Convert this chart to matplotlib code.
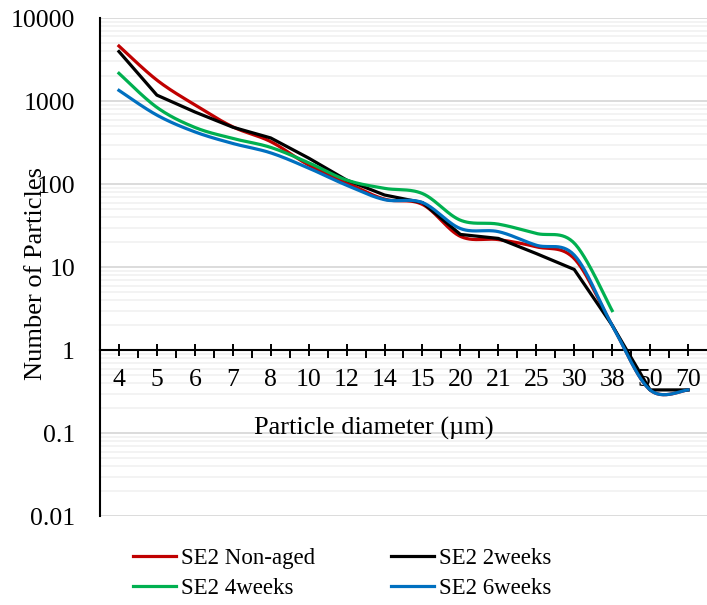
import numpy as np
import matplotlib
matplotlib.use('Agg')
import matplotlib.pyplot as plt
from matplotlib.ticker import LogLocator, NullFormatter, FixedLocator

plt.rcParams['font.family'] = ['Liberation Serif', 'DejaVu Serif']

# Data
diameters = ['4', '5', '6', '7', '8', '10', '12', '14', '15', '20', '21', '25', '30', '38', '50', '70']
non_aged = [4600, 1790, 900, 490, 325, 170, 104, 66, 57, 23.5, 21.5, 17.6, 12.7, 2.0, 0.333, 0.333]
weeks2 = [3950, 1180, 740, 485, 360, 206, 112, 74, 60, 24.8, 22.2, 14.6, 9.4, 2.0, 0.333, 0.333]
weeks4 = [2160, 840, 482, 355, 277, 181, 112, 89, 77, 36.8, 33, 25.5, 19.5, 3.0]
weeks6 = [1345, 678, 426, 309, 238, 156, 97, 65, 60, 29.2, 26.8, 18.4, 14.0, 2.0, 0.333, 0.333]


def smooth(values, n=30):
    # Excel-like smoothed line: cubic Bezier through the points in (index, log10) space
    x = np.arange(len(values), dtype=float)
    y = np.log10(values)
    xs, ys = [], []
    for i in range(len(x) - 1):
        p0 = np.array([x[max(i - 1, 0)], y[max(i - 1, 0)]])
        p1 = np.array([x[i], y[i]])
        p2 = np.array([x[i + 1], y[i + 1]])
        p3 = np.array([x[min(i + 2, len(x) - 1)], y[min(i + 2, len(x) - 1)]])
        c1 = p1 + (p2 - p0) / 6
        c2 = p2 - (p3 - p1) / 6
        t = np.linspace(0, 1, n)[:, None]
        pts = ((1 - t) ** 3) * p1 + 3 * ((1 - t) ** 2) * t * c1 + 3 * (1 - t) * t ** 2 * c2 + t ** 3 * p2
        xs.extend(pts[:, 0])
        ys.extend(pts[:, 1])
    return np.array(xs), 10 ** np.array(ys)


fig = plt.figure(figsize=(7.07, 6.05), dpi=100)
ax = fig.add_axes([0.1414, 0.1465, 0.8586, 0.8237])

lw = 2.3
xs, ys = smooth(non_aged)
l1, = ax.plot(xs, ys, color='#c00000', lw=lw, label='SE2 Non-aged', zorder=3)
l2, = ax.plot(range(len(weeks2)), weeks2, color='#000000', lw=lw, label='SE2 2weeks', zorder=3)
xs, ys = smooth(weeks4)
l3, = ax.plot(xs, ys, color='#00b050', lw=lw, label='SE2 4weeks', zorder=3)
xs, ys = smooth(weeks6)
l4, = ax.plot(xs, ys, color='#0070c0', lw=lw, label='SE2 6weeks', zorder=3)

ax.set_yscale('log')
ax.set_ylim(0.01, 10000)
ax.set_xlim(-0.5, len(diameters) - 0.5)

ax.yaxis.set_minor_locator(LogLocator(base=10, subs=np.arange(2, 10), numticks=20))
ax.yaxis.set_minor_formatter(NullFormatter())
ax.set_yticks([0.01, 0.1, 1, 10, 100, 1000, 10000])
ax.set_yticklabels(['0.01', '0.1', '1', '10', '100', '1000', '10000'])
ax.yaxis.grid(True, which='major', color='#d9d9d9', lw=1.3)
ax.yaxis.grid(True, which='minor', color='#f0f0f0', lw=1.1)
ax.set_axisbelow(True)
ax.tick_params(axis='y', which='both', length=0, pad=18, labelsize=18.5)

ax.set_xticks(range(len(diameters)))
ax.set_xticklabels(diameters)
ax.xaxis.set_minor_locator(FixedLocator(np.arange(0.5, len(diameters) - 0.5, 1)))
ax.tick_params(axis='x', which='major', direction='inout', length=9, width=1.4, pad=9, labelsize=18.5)
ax.tick_params(axis='x', which='minor', direction='out', length=6, width=1.4)
# keep x ticks above the light gridlines
ax.xaxis.set_zorder(2.6)

ax.spines['bottom'].set_position(('data', 1))
ax.spines['bottom'].set_linewidth(1.5)
ax.spines['left'].set_linewidth(1.5)
ax.spines['top'].set_visible(False)
ax.spines['right'].set_visible(False)

fig.text(0.529, 0.2926, 'Particle diameter (µm)', ha='center', va='center', fontsize=19)
fig.text(0.051, 0.548, 'Number of Particles', ha='center', va='center', rotation=90, fontsize=19)

fig.legend([l1, l3, l2, l4], ['SE2 Non-aged', 'SE2 4weeks', 'SE2 2weeks', 'SE2 6weeks'],
           loc='center', bbox_to_anchor=(0.484, 0.052), ncol=2, frameon=False, fontsize=16.5,
           handlelength=1.9, handletextpad=0.22, columnspacing=3.3, labelspacing=0.42,
           borderpad=0)

plt.savefig('out.png', dpi=100)
